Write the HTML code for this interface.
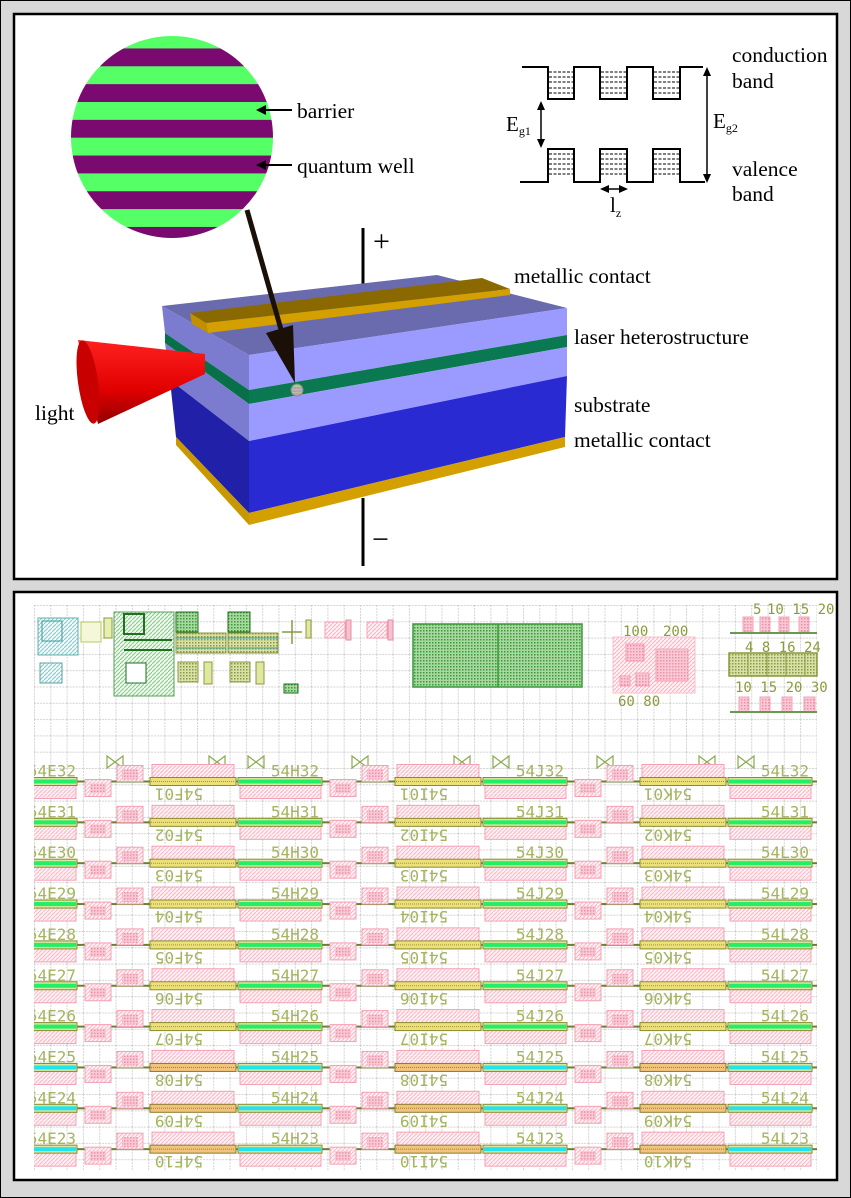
<!DOCTYPE html>
<html><head><meta charset="utf-8"><style>
html,body{margin:0;padding:0;background:#d8d8d8;}
svg{display:block;}
.serif{font-family:"Liberation Serif",serif;fill:#000;}
.lab{font-family:"DejaVu Sans Mono","Liberation Mono",monospace;font-size:16px;fill:#a4b460;}
.num{font-family:"DejaVu Sans Mono","Liberation Mono",monospace;font-size:14px;fill:#8a9a40;}
</style></head><body>
<svg width="851" height="1198" viewBox="0 0 851 1198" xmlns="http://www.w3.org/2000/svg">
<defs>
<pattern id="stripes" patternUnits="userSpaceOnUse" x="0" y="30.6" width="400" height="35.7">
<rect width="400" height="17.85" fill="#55ff66"/><rect y="17.85" width="400" height="17.85" fill="#7a0a70"/>
</pattern>
<pattern id="grid" patternUnits="userSpaceOnUse" x="34" y="605" width="16.3" height="16.3">
<path d="M0 0.5H16.3M0.5 0V16.3" stroke="#d4d4d4" stroke-width="1" stroke-dasharray="2,1" fill="none"/>
</pattern>
<pattern id="ph" patternUnits="userSpaceOnUse" width="4" height="4">
<rect width="4" height="4" fill="#fff2f5"/><path d="M0 4L4 0" stroke="#f8b4c4" stroke-width="1"/>
</pattern>
<pattern id="pc" patternUnits="userSpaceOnUse" width="3" height="3">
<rect width="3" height="3" fill="#f8c8d4"/><rect width="1.5" height="1.5" fill="#f090a8"/>
</pattern>
<pattern id="gc" patternUnits="userSpaceOnUse" width="3" height="3">
<rect width="3" height="3" fill="#a8d8a0"/><rect width="1.5" height="1.5" fill="#3a9a3a"/>
</pattern>
<pattern id="oc" patternUnits="userSpaceOnUse" width="3" height="3">
<rect width="3" height="3" fill="#d8e0a8"/><rect width="1.5" height="1.5" fill="#8a9a40"/>
</pattern>
<pattern id="gh" patternUnits="userSpaceOnUse" width="4" height="4">
<rect width="4" height="4" fill="#eef8ee"/><path d="M0 4L4 0" stroke="#8ac88a" stroke-width="1"/>
</pattern>
<pattern id="th" patternUnits="userSpaceOnUse" width="4" height="4">
<rect width="4" height="4" fill="#f0fafa"/><path d="M0 4L4 0" stroke="#90c8c8" stroke-width="1"/>
</pattern>
<clipPath id="lay"><rect x="34" y="600" width="783" height="570"/></clipPath>
<linearGradient id="cone" x1="0" y1="0" x2="0" y2="1">
<stop offset="0" stop-color="#ff2020"/><stop offset="0.6" stop-color="#e00000"/><stop offset="1" stop-color="#900000"/>
</linearGradient>

<g id="per">
<rect x="152" y="-17" width="82" height="14" fill="url(#ph)" stroke="#f4a0b4"/>
<rect x="240" y="3" width="81" height="14" fill="url(#ph)" stroke="#f4a0b4"/>
<rect x="236" y="-1" width="160" height="2" fill="#6a8030"/>
<rect x="330" y="-2" width="26" height="17" fill="url(#ph)" stroke="#f4a0b4"/>
<rect x="335" y="2" width="16" height="10" fill="url(#pc)"/>
<rect x="362" y="-16" width="26" height="16" fill="url(#ph)" stroke="#f4a0b4"/>
<rect x="367" y="-12" width="16" height="10" fill="url(#pc)"/>
</g>
<g id="wgY">
<rect x="150" y="-4" width="86" height="8" fill="#ece078" stroke="#8a8a30"/>
<path d="M151 0H235" stroke="#a09040" stroke-dasharray="1,1"/>
<rect x="238" y="-4" width="84" height="8" fill="#d8e8a0" stroke="#8a8a30"/>
<rect x="239" y="-2" width="82" height="4" fill="#22ee66"/>
</g>
<g id="wgC">
<rect x="150" y="-4" width="86" height="8" fill="#f0c47a" stroke="#8a7a30"/>
<path d="M151 0H235" stroke="#a07a40" stroke-dasharray="1,1"/>
<rect x="238" y="-4" width="84" height="8" fill="#d8e8a0" stroke="#8a8a30"/>
<rect x="239" y="-2" width="82" height="4" fill="#22e4ec"/>
</g>
<g id="rowG">
<use href="#per" x="-245"/><use href="#per" x="0"/><use href="#per" x="245"/><use href="#per" x="490"/>
<use href="#wgY" x="-245"/><use href="#wgY" x="0"/><use href="#wgY" x="245"/><use href="#wgY" x="490"/>
</g>
<g id="rowC">
<use href="#per" x="-245"/><use href="#per" x="0"/><use href="#per" x="245"/><use href="#per" x="490"/>
<use href="#wgC" x="-245"/><use href="#wgC" x="0"/><use href="#wgC" x="245"/><use href="#wgC" x="490"/>
</g>
<g id="bow"><path d="M0 0L8 6L0 12ZM16 0L8 6L16 12Z" fill="none" stroke="#8aaa50" stroke-width="1.2"/></g>
</defs>

<rect x="0.5" y="0.5" width="850" height="1197" fill="#d8d8d8" stroke="#000" stroke-width="1"/>
<rect x="14" y="14" width="823" height="565" fill="#fff" stroke="#000" stroke-width="2.5"/>
<rect x="14" y="592" width="823" height="588" fill="#fff" stroke="#000" stroke-width="2.5"/>

<!-- ===== TOP PANEL ===== -->
<circle cx="172" cy="137" r="101" fill="url(#stripes)"/>
<path d="M292 110H262" stroke="#000" stroke-width="2"/><polygon points="256,110 266,105 266,115" fill="#000"/>
<path d="M292 165H262" stroke="#000" stroke-width="2"/><polygon points="256,165 266,160 266,170" fill="#000"/>
<text class="serif" x="297" y="118" font-size="21.5">barrier</text>
<text class="serif" x="297" y="173" font-size="21.5">quantum well</text>

<path d="M522 67H548V99H574V67H600V99H627V67H653V99H680V67H703" fill="none" stroke="#000" stroke-width="2"/>
<path d="M520 182H548V149H574V182H600V149H627V182H653V149H680V182H705" fill="none" stroke="#000" stroke-width="2"/>
<g stroke="#000" stroke-width="1" stroke-dasharray="3,1.5">
<path d="M549 72H573M549 77H573M549 82H573M549 88H573M549 93H573"/>
<path d="M601 72H626M601 77H626M601 82H626M601 88H626M601 93H626"/>
<path d="M654 72H679M654 77H679M654 82H679M654 88H679M654 93H679"/>
<path d="M549 154H573M549 159H573M549 164H573M549 169H573M549 174H573"/>
<path d="M601 154H626M601 159H626M601 164H626M601 169H626M601 174H626"/>
<path d="M654 154H679M654 159H679M654 164H679M654 169H679M654 174H679"/>
</g>
<path d="M541 108V141M707 74V176M607 189H621" stroke="#000" stroke-width="1.5"/>
<polygon points="541,101 537,110 545,110" /><polygon points="541,148 537,139 545,139"/>
<polygon points="707,67 703,76 711,76"/><polygon points="707,183 703,174 711,174"/>
<polygon points="600,189 609,185 609,193"/><polygon points="628,189 619,185 619,193"/>
<text class="serif" x="506" y="131" font-size="21">E<tspan font-size="12" dy="4">g1</tspan></text>
<text class="serif" x="713" y="128" font-size="21">E<tspan font-size="12" dy="4">g2</tspan></text>
<text class="serif" x="610" y="212" font-size="21">l<tspan font-size="12" dy="5">z</tspan></text>
<text class="serif" x="732" y="62" font-size="21.5">conduction</text>
<text class="serif" x="732" y="88" font-size="21.5">band</text>
<text class="serif" x="732" y="176" font-size="21.5">valence</text>
<text class="serif" x="732" y="201" font-size="21.5">band</text>

<path d="M363 228V296M363 498V566" stroke="#000" stroke-width="3"/>
<text class="serif" x="373" y="251" font-size="30">+</text>
<text class="serif" x="372" y="549" font-size="30">−</text>
<polygon points="162,306 437,275 567,308 249,355" fill="#6a6aae"/>
<polygon points="249,355 567,308 567,335 249,390" fill="#9b9bff"/>
<polygon points="249,390 567,335 567,347 249,404" fill="#0a7850"/>
<polygon points="249,404 567,347 567,376 249,441" fill="#9b9bff"/>
<polygon points="249,441 567,376 565,437 249,513" fill="#2a2ad2"/>
<polygon points="249,513 565,437 565,447 249,525" fill="#d4a000"/>
<polygon points="162,306 249,355 249,390 165,333" fill="#7b7bd0"/>
<polygon points="165,333 249,390 249,404 165,343" fill="#087048"/>
<polygon points="165,343 249,404 249,441 170,380" fill="#7b7bd0"/>
<polygon points="170,380 249,441 249,513 176,437" fill="#2020a8"/>
<polygon points="176,437 249,513 249,525 176,445" fill="#c89800"/>
<polygon points="190,313 482,278 510,289 206,323" fill="#8a6a00"/>
<polygon points="206,323 510,289 510,295 208,333" fill="#d4a000"/>
<polygon points="190,313 206,323 208,333 192,324" fill="#c09000"/>
<polygon points="78,340 205,354 205,374 98,424" fill="url(#cone)"/>
<ellipse cx="88" cy="382" rx="10" ry="42" transform="rotate(-8 88 382)" fill="#c80000"/>
<path d="M247 210L284 340" stroke="#1a1008" stroke-width="5"/>
<polygon points="266,333 293,325 295,383" fill="#1a1008"/>
<circle cx="297" cy="390" r="6" fill="#a8c8a0" stroke="#7a8a70"/>
<path d="M292 388H302M291 391H303M292 394H302" stroke="#c080c0" stroke-width="1"/>
<text class="serif" x="35" y="420" font-size="21.5">light</text>
<text class="serif" x="514" y="283" font-size="21.5">metallic contact</text>
<text class="serif" x="574" y="344" font-size="21.5">laser heterostructure</text>
<text class="serif" x="574" y="412" font-size="21.5">substrate</text>
<text class="serif" x="574" y="447" font-size="21.5">metallic contact</text>

<!-- ===== BOTTOM PANEL ===== -->
<rect x="34" y="605" width="783" height="565" fill="url(#grid)"/>
<rect x="38" y="618" width="40" height="37" fill="url(#th)" stroke="#60b0b0"/>
<rect x="42" y="621" width="20" height="20" fill="none" stroke="#3a9a9a"/>
<rect x="40" y="663" width="22" height="20" fill="url(#th)" stroke="#60a0a0"/>
<rect x="81" y="622" width="20" height="20" fill="#f4f8d8" stroke="#b8c860"/>
<rect x="104" y="618" width="8" height="20" fill="#e8f0b0" stroke="#8a9a40"/>
<rect x="114" y="612" width="60" height="84" fill="url(#gh)" stroke="#5aa05a"/>
<rect x="124" y="614" width="20" height="20" fill="none" stroke="#207020" stroke-width="2"/>
<path d="M124 640H172M124 650H172" stroke="#207020" stroke-width="2"/>
<rect x="126" y="663" width="20" height="20" fill="#fff" stroke="#207020"/>
<rect x="176" y="612" width="22" height="20" fill="url(#gc)" stroke="#207020"/>
<rect x="228" y="612" width="22" height="20" fill="url(#gc)" stroke="#207020"/>
<rect x="176" y="633" width="50" height="20" fill="url(#oc)" stroke="#8a9a40"/>
<rect x="228" y="633" width="50" height="20" fill="url(#oc)" stroke="#8a9a40"/>
<path d="M176 638H226M228 638H278M176 648H226M228 648H278" stroke="#3aa0a0"/>
<rect x="178" y="662" width="20" height="20" fill="url(#oc)" stroke="#8a9a40"/>
<rect x="230" y="662" width="20" height="20" fill="url(#oc)" stroke="#8a9a40"/>
<rect x="204" y="662" width="8" height="22" fill="#e0e8a0" stroke="#8a9a40"/>
<rect x="256" y="662" width="8" height="22" fill="#e0e8a0" stroke="#8a9a40"/>
<path d="M282 632H302M292 620V644" stroke="#8a9a40" stroke-width="1.5"/>
<rect x="306" y="620" width="5" height="18" fill="#e0e8a0" stroke="#8a9a40"/>
<rect x="325" y="622" width="20" height="16" fill="url(#ph)" stroke="#f4a0b4"/>
<rect x="367" y="622" width="20" height="16" fill="url(#ph)" stroke="#f4a0b4"/>
<rect x="346" y="620" width="5" height="20" fill="#f8c0d0" stroke="#e090a0"/>
<rect x="388" y="620" width="5" height="20" fill="#f8c0d0" stroke="#e090a0"/>
<rect x="284" y="684" width="14" height="9" fill="url(#gc)" stroke="#207020"/>
<rect x="413" y="624" width="169" height="63" fill="url(#gc)" stroke="#3a9a3a" stroke-width="1.5"/>
<path d="M498 624V687" stroke="#3a9a3a" stroke-width="1.5"/>
<rect x="613" y="637" width="82" height="56" fill="url(#ph)" stroke="#f8c0cc"/>
<rect x="626" y="644" width="18" height="17" fill="url(#pc)" stroke="#f4a0b4"/>
<rect x="656" y="649" width="32" height="32" fill="url(#pc)" stroke="#f4a0b4"/>
<rect x="620" y="676" width="10" height="10" fill="url(#pc)" stroke="#f4a0b4"/>
<rect x="636" y="673" width="13" height="13" fill="url(#pc)" stroke="#f4a0b4"/>
<text class="num" x="623" y="636">100</text><text class="num" x="663" y="636">200</text>
<text class="num" x="618" y="706">60 80</text>
<text class="num" x="753" y="614">5</text><text class="num" x="767" y="614">10 15 20</text>
<rect x="743" y="617" width="10" height="15" fill="url(#pc)" stroke="#f4a0b4"/>
<rect x="760" y="617" width="10" height="15" fill="url(#pc)" stroke="#f4a0b4"/>
<rect x="779" y="617" width="10" height="15" fill="url(#pc)" stroke="#f4a0b4"/>
<rect x="799" y="617" width="10" height="15" fill="url(#pc)" stroke="#f4a0b4"/>
<path d="M730 633H817" stroke="#6a9a50" stroke-width="2"/>
<text class="num" x="745" y="652">4  8 16 24</text>
<rect x="729" y="653" width="88" height="23" fill="url(#oc)" stroke="#8a9a40" stroke-width="1.5"/>
<path d="M748 653V676M767 653V676M786 653V676M805 653V676" stroke="#8a9a40"/>
<text class="num" x="735" y="692">10 15 20 30</text>
<rect x="739" y="697" width="10" height="15" fill="url(#pc)" stroke="#f4a0b4"/>
<rect x="760" y="697" width="10" height="15" fill="url(#pc)" stroke="#f4a0b4"/>
<rect x="782" y="697" width="10" height="15" fill="url(#pc)" stroke="#f4a0b4"/>
<rect x="804" y="697" width="11" height="15" fill="url(#pc)" stroke="#f4a0b4"/>
<path d="M730 712H817" stroke="#6a9a50" stroke-width="2"/>

<g clip-path="url(#lay)">
<use href="#bow" x="107" y="756"/><use href="#bow" x="209" y="756"/><use href="#bow" x="248" y="756"/>
<use href="#bow" x="352" y="756"/><use href="#bow" x="454" y="756"/><use href="#bow" x="493" y="756"/>
<use href="#bow" x="597" y="756"/><use href="#bow" x="699" y="756"/><use href="#bow" x="738" y="756"/>

<g transform="translate(0,781.5)"><use href="#rowG"/>
<text class="lab" x="76" y="-5" text-anchor="end">54E32</text><text class="lab" x="319" y="-5" text-anchor="end">54H32</text><text class="lab" x="564" y="-5" text-anchor="end">54J32</text><text class="lab" x="809" y="-5" text-anchor="end">54L32</text>
<text class="lab" transform="translate(179,14) rotate(180)" text-anchor="middle" y="7">54F01</text><text class="lab" transform="translate(424,14) rotate(180)" text-anchor="middle" y="7">54I01</text><text class="lab" transform="translate(668,14) rotate(180)" text-anchor="middle" y="7">54K01</text></g>

<g transform="translate(0,822.35)"><use href="#rowG"/>
<text class="lab" x="76" y="-5" text-anchor="end">54E31</text><text class="lab" x="319" y="-5" text-anchor="end">54H31</text><text class="lab" x="564" y="-5" text-anchor="end">54J31</text><text class="lab" x="809" y="-5" text-anchor="end">54L31</text>
<text class="lab" transform="translate(179,14) rotate(180)" text-anchor="middle" y="7">54F02</text><text class="lab" transform="translate(424,14) rotate(180)" text-anchor="middle" y="7">54I02</text><text class="lab" transform="translate(668,14) rotate(180)" text-anchor="middle" y="7">54K02</text></g>

<g transform="translate(0,863.2)"><use href="#rowG"/>
<text class="lab" x="76" y="-5" text-anchor="end">54E30</text><text class="lab" x="319" y="-5" text-anchor="end">54H30</text><text class="lab" x="564" y="-5" text-anchor="end">54J30</text><text class="lab" x="809" y="-5" text-anchor="end">54L30</text>
<text class="lab" transform="translate(179,14) rotate(180)" text-anchor="middle" y="7">54F03</text><text class="lab" transform="translate(424,14) rotate(180)" text-anchor="middle" y="7">54I03</text><text class="lab" transform="translate(668,14) rotate(180)" text-anchor="middle" y="7">54K03</text></g>

<g transform="translate(0,904.05)"><use href="#rowG"/>
<text class="lab" x="76" y="-5" text-anchor="end">54E29</text><text class="lab" x="319" y="-5" text-anchor="end">54H29</text><text class="lab" x="564" y="-5" text-anchor="end">54J29</text><text class="lab" x="809" y="-5" text-anchor="end">54L29</text>
<text class="lab" transform="translate(179,14) rotate(180)" text-anchor="middle" y="7">54F04</text><text class="lab" transform="translate(424,14) rotate(180)" text-anchor="middle" y="7">54I04</text><text class="lab" transform="translate(668,14) rotate(180)" text-anchor="middle" y="7">54K04</text></g>

<g transform="translate(0,944.9)"><use href="#rowG"/>
<text class="lab" x="76" y="-5" text-anchor="end">54E28</text><text class="lab" x="319" y="-5" text-anchor="end">54H28</text><text class="lab" x="564" y="-5" text-anchor="end">54J28</text><text class="lab" x="809" y="-5" text-anchor="end">54L28</text>
<text class="lab" transform="translate(179,14) rotate(180)" text-anchor="middle" y="7">54F05</text><text class="lab" transform="translate(424,14) rotate(180)" text-anchor="middle" y="7">54I05</text><text class="lab" transform="translate(668,14) rotate(180)" text-anchor="middle" y="7">54K05</text></g>

<g transform="translate(0,985.75)"><use href="#rowG"/>
<text class="lab" x="76" y="-5" text-anchor="end">54E27</text><text class="lab" x="319" y="-5" text-anchor="end">54H27</text><text class="lab" x="564" y="-5" text-anchor="end">54J27</text><text class="lab" x="809" y="-5" text-anchor="end">54L27</text>
<text class="lab" transform="translate(179,14) rotate(180)" text-anchor="middle" y="7">54F06</text><text class="lab" transform="translate(424,14) rotate(180)" text-anchor="middle" y="7">54I06</text><text class="lab" transform="translate(668,14) rotate(180)" text-anchor="middle" y="7">54K06</text></g>

<g transform="translate(0,1026.6)"><use href="#rowG"/>
<text class="lab" x="76" y="-5" text-anchor="end">54E26</text><text class="lab" x="319" y="-5" text-anchor="end">54H26</text><text class="lab" x="564" y="-5" text-anchor="end">54J26</text><text class="lab" x="809" y="-5" text-anchor="end">54L26</text>
<text class="lab" transform="translate(179,14) rotate(180)" text-anchor="middle" y="7">54F07</text><text class="lab" transform="translate(424,14) rotate(180)" text-anchor="middle" y="7">54I07</text><text class="lab" transform="translate(668,14) rotate(180)" text-anchor="middle" y="7">54K07</text></g>

<g transform="translate(0,1067.45)"><use href="#rowC"/>
<text class="lab" x="76" y="-5" text-anchor="end">54E25</text><text class="lab" x="319" y="-5" text-anchor="end">54H25</text><text class="lab" x="564" y="-5" text-anchor="end">54J25</text><text class="lab" x="809" y="-5" text-anchor="end">54L25</text>
<text class="lab" transform="translate(179,14) rotate(180)" text-anchor="middle" y="7">54F08</text><text class="lab" transform="translate(424,14) rotate(180)" text-anchor="middle" y="7">54I08</text><text class="lab" transform="translate(668,14) rotate(180)" text-anchor="middle" y="7">54K08</text></g>

<g transform="translate(0,1108.3)"><use href="#rowC"/>
<text class="lab" x="76" y="-5" text-anchor="end">54E24</text><text class="lab" x="319" y="-5" text-anchor="end">54H24</text><text class="lab" x="564" y="-5" text-anchor="end">54J24</text><text class="lab" x="809" y="-5" text-anchor="end">54L24</text>
<text class="lab" transform="translate(179,14) rotate(180)" text-anchor="middle" y="7">54F09</text><text class="lab" transform="translate(424,14) rotate(180)" text-anchor="middle" y="7">54I09</text><text class="lab" transform="translate(668,14) rotate(180)" text-anchor="middle" y="7">54K09</text></g>

<g transform="translate(0,1149.15)"><use href="#rowC"/>
<text class="lab" x="76" y="-5" text-anchor="end">54E23</text><text class="lab" x="319" y="-5" text-anchor="end">54H23</text><text class="lab" x="564" y="-5" text-anchor="end">54J23</text><text class="lab" x="809" y="-5" text-anchor="end">54L23</text>
<text class="lab" transform="translate(179,14) rotate(180)" text-anchor="middle" y="7">54F10</text><text class="lab" transform="translate(424,14) rotate(180)" text-anchor="middle" y="7">54I10</text><text class="lab" transform="translate(668,14) rotate(180)" text-anchor="middle" y="7">54K10</text></g>
</g>
</svg>
</body></html>
